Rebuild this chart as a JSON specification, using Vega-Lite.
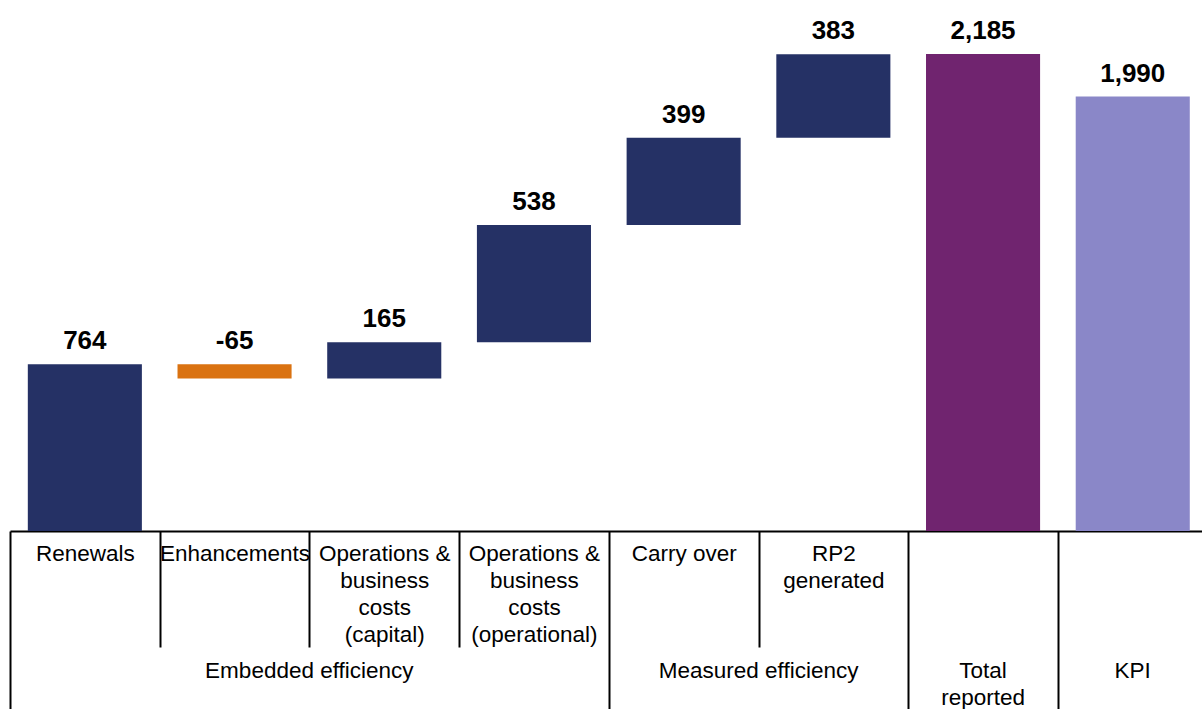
{
  "$schema": "https://vega.github.io/schema/vega-lite/v6.json",
  "width": 1192,
  "height": 524,
  "autosize": "none",
  "padding": {"left": 10, "top": 7, "right": 0, "bottom": 178},
  "background": "white",
  "config": {"view": {"stroke": null}, "font": "Liberation Sans"},
  "data": {
    "values": [
      {"category": "Renewals", "group": "Embedded efficiency", "value": 764, "start": 0, "end": 764, "type": "increase"},
      {"category": "Enhancements", "group": "Embedded efficiency", "value": -65, "start": 764, "end": 699, "type": "decrease"},
      {"category": "Operations & business costs (capital)", "group": "Embedded efficiency", "value": 165, "start": 699, "end": 864, "type": "increase"},
      {"category": "Operations & business costs (operational)", "group": "Embedded efficiency", "value": 538, "start": 864, "end": 1402, "type": "increase"},
      {"category": "Carry over", "group": "Measured efficiency", "value": 399, "start": 1402, "end": 1801, "type": "increase"},
      {"category": "RP2 generated", "group": "Measured efficiency", "value": 383, "start": 1801, "end": 2184, "type": "increase"},
      {"category": "Total reported", "group": "Total reported", "value": 2185, "start": 0, "end": 2185, "type": "total"},
      {"category": "KPI", "group": "KPI", "value": 1990, "start": 0, "end": 1990, "type": "kpi"}
    ]
  },
  "transform": [
    {"calculate": "max(datum.start, datum.end)", "as": "top"},
    {"calculate": "replace(format(datum.value, ','), '\u2212', '-')", "as": "lbl"}
  ],
  "layer": [
    {
      "mark": {"type": "bar", "width": {"band": 0.762}},
      "encoding": {
        "x": {
          "field": "category",
          "type": "nominal",
          "sort": ["Renewals", "Enhancements", "Operations & business costs (capital)", "Operations & business costs (operational)", "Carry over", "RP2 generated", "Total reported", "KPI"],
          "scale": {"range": [0, 1197.6], "paddingInner": 0, "paddingOuter": 0},
          "axis": {
            "orient": "bottom",
            "title": null,
            "grid": false,
            "domain": true,
            "domainColor": "#000000",
            "domainWidth": 2,
            "ticks": true,
            "tickBand": "extent",
            "tickColor": "#000000",
            "tickWidth": 2,
            "tickSize": {"condition": {"test": "datum.extra || indexof(['Operations & business costs (operational)','RP2 generated','Total reported','KPI'], datum.value) >= 0", "value": 180}, "value": 116},
            "labelPadding": {"condition": {"test": "datum.extra || indexof(['Operations & business costs (operational)','RP2 generated','Total reported','KPI'], datum.value) >= 0", "value": -169}, "value": -105},
            "labelAngle": 0,
            "labelFont": "Liberation Sans",
            "labelFontSize": 22.5,
            "labelColor": "#000000",
            "labelLineHeight": 27,
            "labelLimit": 0,
            "labelOverlap": false,
            "labelBaseline": "top",
            "labelExpr": "datum.label == 'Operations & business costs (capital)' ? ['Operations &', 'business', 'costs', '(capital)'] : datum.label == 'Operations & business costs (operational)' ? ['Operations &', 'business', 'costs', '(operational)'] : datum.label == 'RP2 generated' ? ['RP2', 'generated'] : (datum.label == 'Total reported' || datum.label == 'KPI') ? '' : datum.label"
          }
        },
        "y": {"field": "start", "type": "quantitative", "scale": {"domain": [0, 2400], "nice": false, "zero": true}, "axis": null},
        "y2": {"field": "end"},
        "color": {
          "field": "type",
          "type": "nominal",
          "scale": {"domain": ["increase", "decrease", "total", "kpi"], "range": ["#253165", "#DA7211", "#70246F", "#8A87C8"]},
          "legend": null
        }
      }
    },
    {
      "mark": {"type": "text", "font": "Liberation Sans", "fontWeight": "bold", "fontSize": 26, "baseline": "alphabetic", "align": "center", "dy": -15, "color": "#000000"},
      "encoding": {
        "x": {
          "field": "category",
          "type": "nominal",
          "sort": ["Renewals", "Enhancements", "Operations & business costs (capital)", "Operations & business costs (operational)", "Carry over", "RP2 generated", "Total reported", "KPI"],
          "scale": {"range": [0, 1197.6], "paddingInner": 0, "paddingOuter": 0},
          "axis": {
            "orient": "bottom",
            "title": null,
            "grid": false,
            "domain": false,
            "ticks": false,
            "tickSize": 0,
            "labelPadding": 128,
            "labelAngle": 0,
            "labelFont": "Liberation Sans",
            "labelFontSize": 22.5,
            "labelColor": "#000000",
            "labelLineHeight": 27,
            "labelLimit": 0,
            "labelOverlap": false,
            "labelBaseline": "top",
            "labelOffset": {"condition": [{"test": "datum.value == 'Renewals'", "value": 224.5}, {"test": "datum.value == 'Carry over'", "value": 75}], "value": 0},
            "labelExpr": "datum.label == 'Renewals' ? 'Embedded efficiency' : datum.label == 'Carry over' ? 'Measured efficiency' : datum.label == 'Total reported' ? ['Total', 'reported'] : datum.label == 'KPI' ? 'KPI' : ''"
          }
        },
        "y": {"field": "top", "type": "quantitative", "scale": {"domain": [0, 2400], "nice": false, "zero": true}, "axis": null},
        "text": {"field": "lbl"}
      }
    }
  ],
  "resolve": {"axis": {"x": "independent"}}
}
